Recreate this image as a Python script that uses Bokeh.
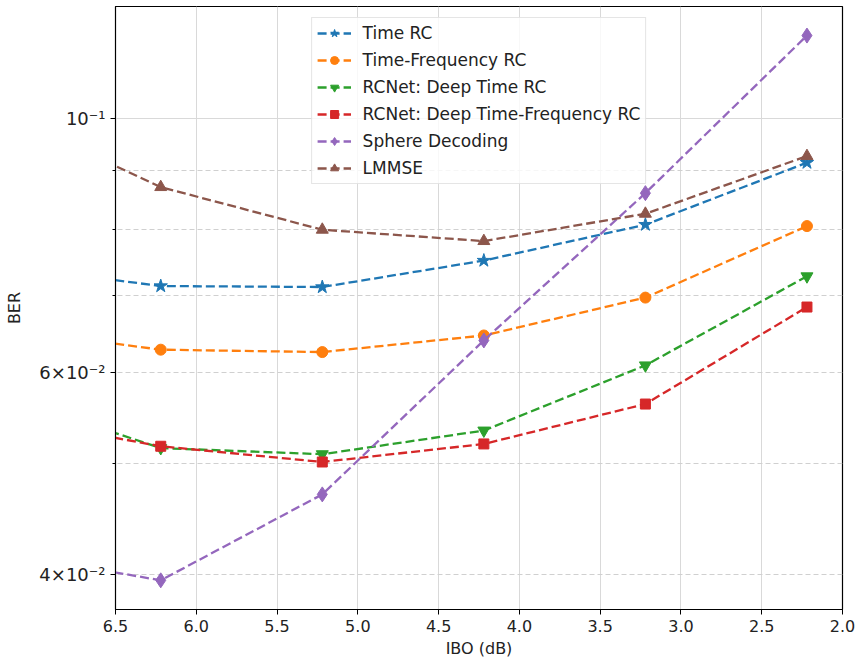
from bokeh.plotting import figure
from bokeh.models import Range1d, FixedTicker, PrintfTickFormatter
from bokeh.embed import file_html
from bokeh.resources import INLINE

# ---- data ----
ibo = [7.22, 6.22, 5.22, 4.22, 3.22, 2.22]
time_rc = [0.07446, 0.07141, 0.07127, 0.07516, 0.08078, 0.09149]
time_freq_rc = [0.06557, 0.06284, 0.06254, 0.06466, 0.06977, 0.08055]
rcnet_time = [0.05743, 0.05157, 0.05094, 0.05342, 0.06089, 0.07282]
rcnet_time_freq = [0.05497, 0.05176, 0.05015, 0.05200, 0.05634, 0.06846]
sphere = [0.04185, 0.03954, 0.04699, 0.06402, 0.08606, 0.1181]
lmmse = [0.1013, 0.08711, 0.07996, 0.07816, 0.08257, 0.09271]

x_ticks = [6.5, 6.0, 5.5, 5.0, 4.5, 4.0, 3.5, 3.0, 2.5, 2.0]
y_major = [0.04, 0.06, 0.1]
y_minor = [0.05, 0.07, 0.08, 0.09]
y_labels = {0.04: "4×10⁻²", 0.06: "6×10⁻²", 0.1: "10⁻¹"}

series = [
    ("Time RC", time_rc, "#1f77b4", "star", 14),
    ("Time-Frequency RC", time_freq_rc, "#ff7f0e", "circle", 11),
    ("RCNet: Deep Time RC", rcnet_time, "#2ca02c", "inverted_triangle", 12),
    ("RCNet: Deep Time-Frequency RC", rcnet_time_freq, "#d62728", "square", 10),
    ("Sphere Decoding", sphere, "#9467bd", "diamond", 15),
    ("LMMSE", lmmse, "#8c564b", "triangle", 12),
]

p = figure(width=856, height=663, output_backend="svg", toolbar_location=None,
           y_axis_type="log",
           x_range=Range1d(6.5, 2.0), y_range=Range1d(0.03729, 0.1252),
           min_border_left=115, min_border_right=14, min_border_top=6,
           min_border_bottom=54)

for name, ys, col, mk, sz in series:
    p.line(ibo, ys, line_color=col, line_width=2.3, line_dash="9 4",
           legend_label=name)
    p.scatter(ibo, ys, marker=mk, size=sz, fill_color=col, line_color=col,
              legend_label=name)

# axes
p.xaxis.ticker = FixedTicker(ticks=x_ticks)
p.xaxis.formatter = PrintfTickFormatter(format="%.1f")
p.yaxis.ticker = FixedTicker(ticks=y_major, minor_ticks=y_minor)
p.yaxis.major_label_overrides = y_labels
p.xaxis.axis_label = "IBO (dB)"
p.yaxis.axis_label = "BER"
for ax in (p.xaxis, p.yaxis):
    ax.axis_label_text_font = "DejaVu Sans"
    ax.axis_label_text_font_size = "16px"
    ax.axis_label_text_font_style = "normal"
    ax.axis_label_text_color = "#222222"
    ax.major_label_text_font = "DejaVu Sans"
    ax.major_label_text_font_size = "16px"
    ax.major_label_text_color = "#222222"
    ax.axis_line_color = "black"
    ax.major_tick_line_color = "black"
    ax.minor_tick_line_color = "black"
    ax.major_tick_in = 0
    ax.major_tick_out = 5
    ax.minor_tick_in = 0
    ax.minor_tick_out = 3
p.yaxis.major_label_text_font_size = "18px"
p.xaxis.axis_label_standoff = 4
p.yaxis.axis_label_standoff = 12

p.outline_line_color = "black"
p.outline_line_width = 1.2

# grids
p.xgrid.grid_line_color = "#d9d9d9"
p.xgrid.grid_line_width = 1
p.ygrid.ticker = FixedTicker(ticks=[0.1], minor_ticks=[0.04, 0.05, 0.06, 0.07, 0.08, 0.09])
p.ygrid.grid_line_color = "#d9d9d9"
p.ygrid.grid_line_width = 1
p.ygrid.minor_grid_line_color = "#d0d0d0"
p.ygrid.minor_grid_line_dash = "5 3"
p.ygrid.minor_grid_line_width = 1

# legend
lg = p.legend[0]
lg.location = "top_center"
lg.margin = 11
lg.padding = 5
lg.spacing = 7
lg.glyph_height = 20
lg.label_height = 20
lg.glyph_width = 34
lg.label_standoff = 12
lg.label_text_font = "DejaVu Sans"
lg.label_text_font_size = "17px"
lg.label_text_color = "#222222"
lg.border_line_color = "#cccccc"
lg.border_line_width = 1
lg.background_fill_alpha = 0.8

open("out.html", "w").write(file_html(p, INLINE))
